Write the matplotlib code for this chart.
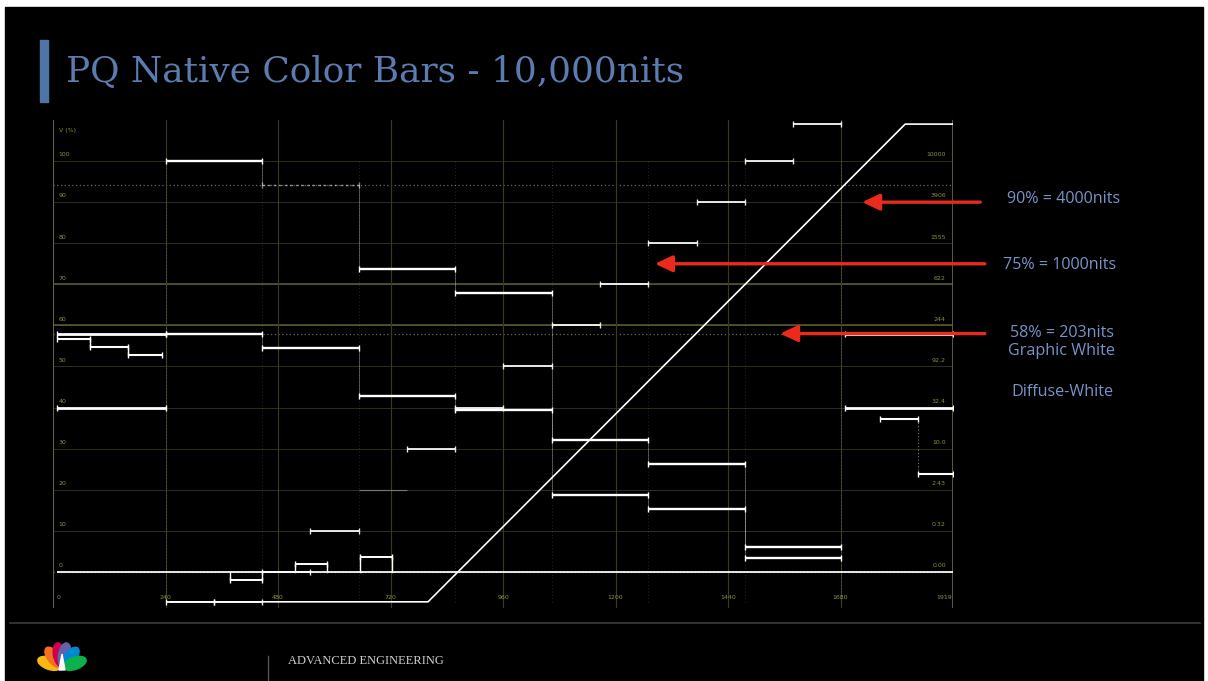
import matplotlib
matplotlib.use("Agg")
import matplotlib.pyplot as plt
from matplotlib.patches import Rectangle, Ellipse, Polygon
import math

# ---------------- data (waveform of BT.2111 PQ bars, luma in %) ----------------
bar_edges = [0, 240, 446, 652, 858, 1064, 1270, 1476, 1680, 1920]
bars100_luma = [100.0, 94.07, 73.73, 67.80, 32.20, 26.27, 5.93]
bars58_luma = [58.0, 54.56, 42.76, 39.32, 18.68, 15.24, 3.44]
side_levels = [58.0, 40.0]
left_step_edges = [8, 79, 160, 232]
left_step_levels = [56.7, 54.7, 52.8]
right_step_edges = [1764, 1845, 1920]
right_step_levels = [37.2, 23.8]
step_edges = [240, 343, 446, 549, 652, 755, 858, 961, 1064, 1167, 1270, 1373, 1476, 1579, 1682]
step_levels = [-7.3, -7.3, 0, 10, 20, 30, 40, 50, 60, 70, 80, 90, 100, 109]
ramp_x = [250, 800, 1818, 1920]
ramp_y = [-7.3, -7.3, 109, 109]
pluge_start = [378, 516, 655]
pluge_end = [446, 584, 723]
pluge_levels = [-2.1, 1.8, 3.6]

y_ticks = [0, 10, 20, 30, 40, 50, 60, 70, 80, 90, 100]
y_tick_labels = ["0", "10", "20", "30", "40", "50", "60", "70", "80", "90", "100"]
nits_labels = ["0.00", "0.32", "2.43", "10.0", "32.4", "92.2", "244", "622", "1555", "3906", "10000"]
x_ticks = [0, 240, 480, 720, 960, 1200, 1440, 1680, 1919]
x_tick_labels = ["0", "240", "480", "720", "960", "1200", "1440", "1680", "1919"]

annot_levels = [90, 75, 58]
annot_tips = [1726, 1284, 1551]
annot_texts = ["90% = 4000nits", "75% = 1000nits", "58% = 203nits\nGraphic White"]
extra_text = "Diffuse-White"
title = "PQ Native Color Bars - 10,000nits"
footer = "ADVANCED ENGINEERING"

# ---------------- figure ----------------
W, H = 1208, 681
fig = plt.figure(figsize=(W / 100, H / 100), dpi=100, facecolor="white")
bg = fig.add_axes([0, 0, 1, 1])
bg.set_xlim(0, W)
bg.set_ylim(H, 0)
bg.axis("off")
bg.add_patch(Rectangle((5, 7), 1198, 680, color="black", zorder=0))

# title
bg.add_patch(Rectangle((40, 40), 8, 62, color="#4f74a6", zorder=2))
bg.text(66, 82, title, fontsize=25.8, color="#5b7cb0", va="baseline", ha="left",
        family="DejaVu Serif", zorder=3)

# footer
bg.plot([10, 1200], [623, 623], color="#3a3a3a", lw=1.2)
bg.plot([268, 268], [656, 681], color="#555555", lw=1.0)
bg.text(288, 664, footer, fontsize=9, color="#d0d0d0", family="Liberation Serif",
        va="baseline", ha="left")
# peacock logo
feather_colors = ["#fcb711", "#f37021", "#cc004c", "#6460aa", "#0089d0", "#0db14b"]
feather_angles = [160, 128, 101, 79, 52, 20]
bx, by = 62, 668
for c, a in zip(feather_colors, feather_angles):
    r = 13.5
    cx = bx + r * math.cos(math.radians(a))
    cy = by - r * math.sin(math.radians(a))
    bg.add_patch(Ellipse((cx, cy), 24, 12, angle=-a, color=c, zorder=3))
bg.add_patch(Polygon([[bx - 3, by + 2], [bx + 3, by + 2], [bx, by - 14]], color="white", zorder=4))

# annotation texts
txt_col = "#7893c6"
fs = 11.6
bg.text(1007, 199, annot_texts[0], fontsize=fs, color=txt_col, va="center", ha="left", family="Open Sans")
bg.text(1003, 265, annot_texts[1], fontsize=fs, color=txt_col, va="center", ha="left", family="Open Sans")
bg.text(1062, 342, annot_texts[2], fontsize=fs, color=txt_col, va="center", ha="center",
        family="Open Sans", linespacing=1.1)
bg.text(1062, 392, extra_text, fontsize=fs, color=txt_col, va="center", ha="center", family="Open Sans")

# ---------------- waveform axes ----------------
ax = fig.add_axes([53 / W, (H - 608) / H, 900 / W, 488 / H])
ax.set_xlim(0, 1920)
ax.set_ylim(-8.8, 110)
ax.axis("off")

olive = "#5e5e2e"
dim = "#2e2e1a"
lab = "#8e8e40"
# graticule
for v in y_ticks[1:]:
    ax.axhline(v, color=dim, lw=0.7, zorder=1)
for v in (60, 70):
    ax.axhline(v, color=olive, lw=1.1, zorder=1)
for v in (0, 58, 94.07):
    ax.axhline(v, color="#6a6a50", lw=0.9, ls=(0, (1, 2)), zorder=1)
for xv in [0, 240, 480, 720, 960, 1200, 1440, 1680, 1920]:
    ax.axvline(xv, color="#3a3a22", lw=0.8, zorder=1)
ax.axvline(0, color="#6b6b36", lw=1.2, zorder=1)
ax.axvline(1920, color="#6b6b36", lw=1.2, zorder=1)

for v, t, n in zip(y_ticks, y_tick_labels, nits_labels):
    ax.text(12, v + 0.9, t, fontsize=4.5, color=lab, ha="left", va="bottom", zorder=2)
    ax.text(1905, v + 0.9, n, fontsize=4.5, color=lab, ha="right", va="bottom", zorder=2)
ax.text(12, 107.5, "V (%)", fontsize=4.5, color=lab, ha="left", va="center", zorder=2)
for xv, t in zip(x_ticks, x_tick_labels):
    ha = "left" if xv == x_ticks[0] else ("right" if xv == x_ticks[-1] else "center")
    ax.text(xv + (8 if ha == "left" else 0), -6.3, t, fontsize=4.5, color=lab, ha=ha, va="center", zorder=2)

# faint dotted verticals at bar edges (transitions)
for xv in bar_edges[1:-1]:
    ax.plot([xv, xv], [-7.3, 100], color="white", lw=0.6, alpha=0.2, ls=(0, (1, 3)), zorder=3)


def seg(x0, x1, y, lw=1.7, alpha=1.0, ls="-", ends=True):
    ax.plot([x0, x1], [y, y], color="white", lw=lw, alpha=alpha, ls=ls,
            solid_capstyle="butt", zorder=5)
    if ends:
        ax.plot([x0, x1], [y, y], ls="none", marker="|", ms=4, mew=1.0,
                color="white", alpha=alpha, zorder=6)


# zero line
seg(bar_edges[0] + 8, bar_edges[-1], 0, lw=1.4, alpha=0.9, ends=False)

# 100% bars row and 58% bars row
for row in (bars100_luma, bars58_luma):
    for i, v in enumerate(row):
        faint = row is bars100_luma and i == 1
        seg(bar_edges[i + 1], bar_edges[i + 2], v,
            lw=1.0 if faint else 1.7, alpha=0.5 if faint else 1.0,
            ls=(0, (2, 2)) if faint else "-")
    for i in range(len(row) - 1):
        ax.plot([bar_edges[i + 2]] * 2, [row[i], row[i + 1]], color="white",
                lw=0.7, alpha=0.3, zorder=4)

# side grays
for v in side_levels:
    seg(bar_edges[0] + 8, bar_edges[1], v, lw=2.0)
    seg(bar_edges[-2] + 10, bar_edges[-1], v, lw=2.0)

# side steps
for i, v in enumerate(left_step_levels):
    seg(left_step_edges[i], left_step_edges[i + 1], v, lw=1.5)
for i in range(len(left_step_levels) - 1):
    ax.plot([left_step_edges[i + 1]] * 2, [left_step_levels[i], left_step_levels[i + 1]],
            color="white", lw=1.0, zorder=4)
for i, v in enumerate(right_step_levels):
    seg(right_step_edges[i], right_step_edges[i + 1], v, lw=1.5)
ax.plot([right_step_edges[1]] * 2, right_step_levels, color="white", lw=0.8, alpha=0.5,
        ls=(0, (1, 2)), zorder=4)

# step row
for i, v in enumerate(step_levels):
    faint = v == 20
    seg(step_edges[i], step_edges[i + 1], v, lw=0.9 if faint else 1.4,
        alpha=0.35 if faint else 0.9, ends=not faint)

# ramp
ax.plot(ramp_x, ramp_y, color="white", lw=1.2, zorder=5)

# pluge
for x0, x1, v in zip(pluge_start, pluge_end, pluge_levels):
    seg(x0, x1, v, lw=1.4)
    ax.plot([x0, x0], [0, v], color="white", lw=1.0, zorder=5)
    ax.plot([x1, x1], [0, v], color="white", lw=1.0, zorder=5)

# red arrows
for lvl, tip in zip(annot_levels, annot_tips):
    tail = 1978 if lvl == 90 else 1988
    ax.annotate("", xy=(tip, lvl), xytext=(tail, lvl), annotation_clip=False,
                arrowprops=dict(arrowstyle="-|>,head_length=0.75,head_width=0.35",
                                mutation_scale=14, color="#ec2a1c", lw=2.4,
                                shrinkA=0, shrinkB=0), zorder=10)

fig.savefig("out.png", dpi=100, facecolor=fig.get_facecolor())
